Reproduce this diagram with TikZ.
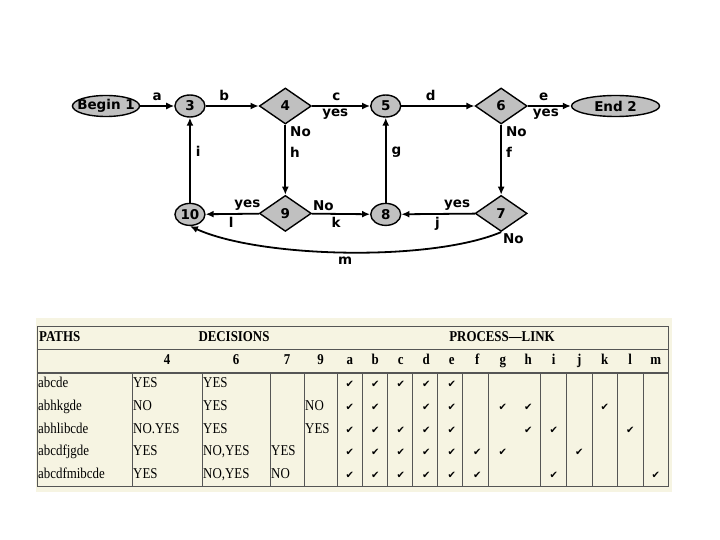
\documentclass[tikz,border=0pt]{standalone}
\usepackage{fontspec}
\setmainfont{Liberation Serif}
\newfontfamily\flowfont{DejaVu Sans}
\newfontfamily\tabfont{Liberation Serif}[FakeStretch=0.86]
\newfontfamily\tickfont{DejaVu Sans}
\usetikzlibrary{arrows.meta,positioning,shapes.geometric}
\definecolor{nodegray}{RGB}{192,192,192}
\definecolor{tabcream}{RGB}{246,244,226}
\definecolor{tabline}{RGB}{85,85,85}

\begin{document}
\begin{tikzpicture}[
  x=1pt, y=-1pt,
  term/.style={ellipse, draw, line width=1.4pt, fill=nodegray, minimum width=67pt, minimum height=21pt, inner xsep=-5pt, inner ysep=0pt, font=\flowfont\bfseries\fontsize{13.5}{14}\selectfont},
  junc/.style={ellipse, draw, line width=1.4pt, fill=nodegray, minimum width=30pt, minimum height=22pt, inner sep=0pt, font=\flowfont\bfseries\fontsize{13.5}{14}\selectfont},
  decide/.style={diamond, draw, line width=1.4pt, fill=nodegray, minimum width=52pt, minimum height=36pt, inner sep=0pt, font=\flowfont\bfseries\fontsize{13.5}{14}\selectfont},
  arrow/.style={-{Latex[length=8pt,width=7pt]}, line width=1.8pt},
  lbl/.style={font=\flowfont\bfseries\fontsize{13.5}{14}\selectfont, inner sep=1pt},
  cell/.style={font=\tabfont\fontsize{15}{15}\selectfont, inner sep=1pt, text height=10pt, text depth=3pt, anchor=west},
  head/.style={font=\tabfont\bfseries\fontsize{15}{15}\selectfont, inner sep=1pt, text height=10pt, text depth=3pt},
  tick/.style={font=\tickfont\fontsize{10}{10}\selectfont, inner sep=0pt}
]
\useasboundingbox[fill=white] (0,0) rectangle (720,540);

% flow graph
\node[term] (begin) at (106,106) {Begin 1};
\node[junc, right=34pt of begin] (n3) {3};
\node[decide, right=53pt of n3] (n4) {4};
\node[junc, right=58pt of n4] (n5) {5};
\node[decide, right=73pt of n5] (n6) {6};
\node[term, minimum width=88pt, right=43pt of n6] (end) {End 2};
\node[decide, below=70pt of n4] (n9) {9};
\node[decide, below=70pt of n6] (n7) {7};
\node[junc, below=85pt of n3] (n10) {10};
\node[junc, below=85pt of n5] (n8) {8};

\draw[arrow] (begin) -- node[lbl, above=3pt] {a} (n3);
\draw[arrow] (n3) -- node[lbl, pos=0.35, above=3pt] {b} (n4);
\draw[arrow] (n4) -- node[lbl, pos=0.42, above=3pt] {c} node[lbl, pos=0.4, below=1pt] {yes} (n5);
\draw[arrow] (n5) -- node[lbl, pos=0.4, above=3pt] {d} (n6);
\draw[arrow] (n6) -- node[lbl, pos=0.37, above=3pt] {e} node[lbl, pos=0.42, below=1pt] {yes} (end);
\draw[arrow] (n4) -- node[lbl, pos=0.1, right=3pt] {No} node[lbl, pos=0.4, right=3pt] {h} (n9);
\draw[arrow] (n6) -- node[lbl, pos=0.1, right=3pt] {No} node[lbl, pos=0.4, right=3pt] {f} (n7);
\draw[arrow] (n8) -- node[lbl, pos=0.6, right=4pt] {g} (n5);
\draw[arrow] (n10) -- node[lbl, pos=0.6, right=4pt] {i} (n3);
\draw[arrow] (n9) -- node[lbl, pos=0.22, above=1pt] {yes} node[lbl, pos=0.52, below=1pt] {l} (n10);
\draw[arrow] (n9) -- node[lbl, pos=0.2, above=1pt] {No} node[lbl, pos=0.42, below=1pt] {k} (n8);
\draw[arrow] (n7) -- node[lbl, pos=0.24, above=1pt] {yes} node[lbl, pos=0.51, below=1pt] {j} (n8);
\draw[arrow] (n7.south) .. controls (430,262) and (260,258) .. node[lbl, at start, anchor=north west] {No} node[lbl, pos=0.5, below=3pt] {m} (n10.south);

% path table
\fill[tabcream] (36,318) rectangle (672,492);
\draw[tabline, line width=0.8pt] (37,326) rectangle (668,486);
\draw[tabline, line width=0.8pt] (37,349) -- (668,349);
\draw[tabline, line width=2pt] (37,373) -- (668,373);
\foreach \xv in {132,202,270,304,337,362,387,412,437,462,488,540,566,592,617,643}
  \draw[tabline, line width=0.8pt] (\xv,373) -- (\xv,486);

\node[head, anchor=west] (hpaths) at (38,338) {PATHS};
\node[head] (hdec) at (234,338) {DECISIONS};
\node[head] (hlink) at (502,338) {PROCESS—LINK};
\foreach \lab/\xv in {4/167,6/236,7/287,9/320.5}
  \node[head] at (\xv,361) {\lab};
\foreach \lab [count=\k] in {a,...,m}
  \node[head] at ({337+(\k-0.5)*25.5},361) {\lab};

\node[cell] (p1) at (37,384) {abcde};
\node[cell] at (132,384) {YES};
\node[cell] at (202,384) {YES};
\node[cell] (p2) at (37,407) {abhkgde};
\node[cell] at (132,407) {NO};
\node[cell] at (202,407) {YES};
\node[cell] at (304,407) {NO};
\node[cell] (p3) at (37,430) {abhlibcde};
\node[cell] at (132,430) {NO.YES};
\node[cell] at (202,430) {YES};
\node[cell] at (304,430) {YES};
\node[cell] (p4) at (37,452) {abcdfjgde};
\node[cell] at (132,452) {YES};
\node[cell] at (202,452) {NO,YES};
\node[cell] at (270,452) {YES};
\node[cell] (p5) at (37,475) {abcdfmibcde};
\node[cell] at (132,475) {YES};
\node[cell] at (202,475) {NO,YES};
\node[cell] at (270,475) {NO};

\foreach \yv/\cols in {384/{1,2,3,4,5}, 407/{1,2,4,5,7,8,11}, 430/{1,2,3,4,5,8,9,12}, 452/{1,2,3,4,5,6,7,10}, 475/{1,2,3,4,5,6,9,13}}
  \foreach \k in \cols
    \node[tick] at ({337+(\k-0.5)*25.5},\yv) {✔};
\end{tikzpicture}
\end{document}
